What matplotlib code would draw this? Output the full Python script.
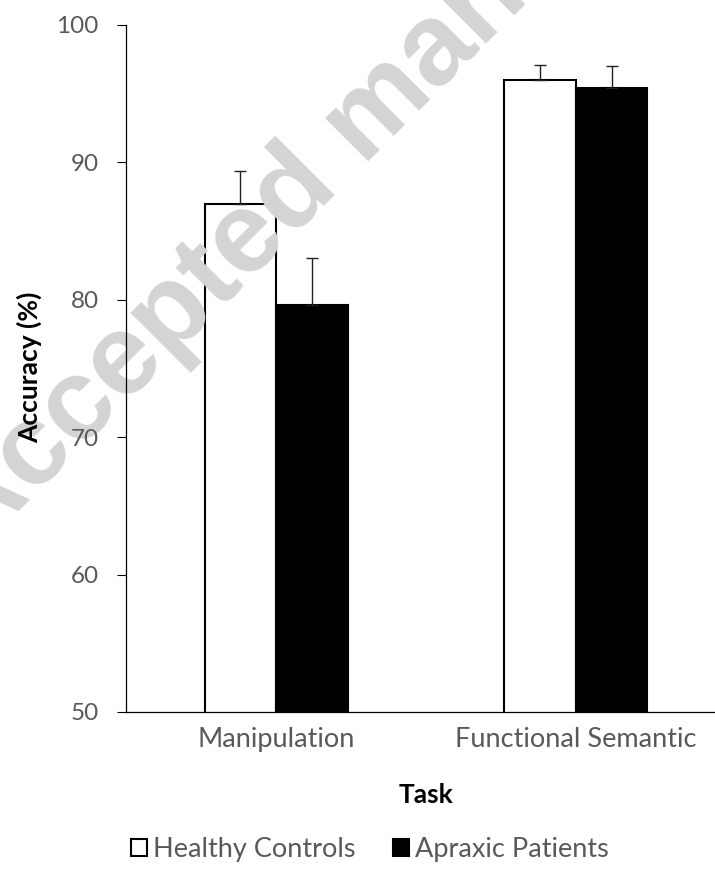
import matplotlib
matplotlib.use('Agg')
import matplotlib.pyplot as plt
from numpy import arange

tasks = ['Manipulation', 'Functional Semantic']
groups = ['Healthy Controls', 'Apraxic Patients']
healthy = [87.0, 96.0]
healthy_err = [2.35, 1.1]
apraxic = [79.6, 95.4]
apraxic_err = [3.4, 1.6]
yticks = [50, 60, 70, 80, 90, 100]

plt.rcParams['font.family'] = ['Lato', 'DejaVu Sans']

fig = plt.figure(figsize=(7.15, 8.86), dpi=100)
ax = fig.add_axes([0.1766, 0.1965, 0.8383, 0.7754])
ax.set_axisbelow(False)

x = arange(len(tasks))
w = 0.2386
gray = '#595959'

ax.bar(x - w / 2, healthy, w, color='white', edgecolor='black',
       linewidth=1.5, label=groups[0], zorder=1)
ax.bar(x + w / 2, apraxic, w, color='black', edgecolor='black',
       linewidth=1.5, label=groups[1], zorder=1)
ax.errorbar(x - w / 2, healthy, yerr=[[0, 0], healthy_err], fmt='none',
            ecolor='#222222', elinewidth=1.0, capsize=4.3, capthick=1.0, zorder=1.6)
ax.errorbar(x + w / 2, apraxic, yerr=[[0, 0], apraxic_err], fmt='none',
            ecolor='#222222', elinewidth=1.0, capsize=4.3, capthick=1.0, zorder=1.6)

ax.set_xlim(-0.5, 1.5)
ax.set_ylim(50, 100)
ax.set_yticks(yticks)
ax.set_xticks(x)
ax.set_xticklabels(tasks)
ax.tick_params(axis='y', length=6.3, width=0.8, colors='black', labelcolor=gray,
               labelsize=17.5, pad=13.5)
ax.tick_params(axis='x', length=0, labelcolor=gray, labelsize=19.5, pad=11)
for s in ['top', 'right']:
    ax.spines[s].set_visible(False)
for s in ['left', 'bottom']:
    ax.spines[s].set_linewidth(0.9)

ax.set_xlabel('Task', fontsize=19, fontweight='bold', labelpad=22)
fig.text(0.041, 0.585, 'Accuracy (%)', rotation=90, fontsize=19, fontweight='bold',
         ha='center', va='center', zorder=6)

fig.legend(loc='center', bbox_to_anchor=(0.517, 0.041), ncol=2, frameon=False,
           fontsize=19.5, labelcolor=gray, handlelength=0.6, handleheight=0.6,
           handletextpad=0.2, columnspacing=1.4)

# watermark, above the bars but under the axis texts
ax.text(-0.036, 0.372, 'Accepted manuscript', rotation=45, rotation_mode='anchor',
        ha='left', va='baseline', fontsize=83, fontweight='bold',
        family='Liberation Sans', color='#d4d4d4', zorder=1.3,
        transform=fig.transFigure, clip_on=False)

fig.savefig('out.png', dpi=100)
